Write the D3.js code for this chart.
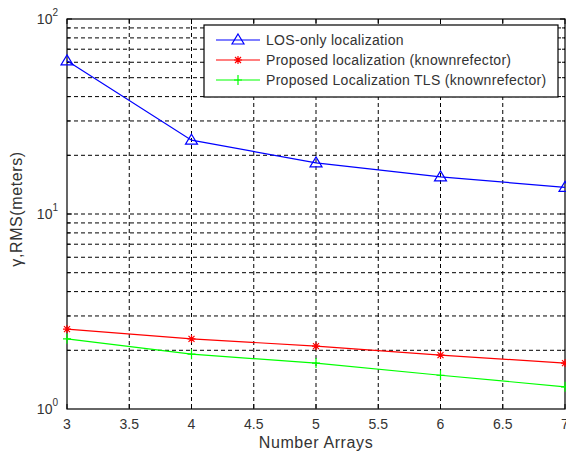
<!DOCTYPE html>
<html>
<head>
<meta charset="utf-8">
<script src="https://cdn.jsdelivr.net/npm/d3@7"></script>
<style>
  body { margin: 0; background: #fff; }
  svg { font-family: "Liberation Sans", Arial, sans-serif; }
</style>
</head>
<body>
<div id="chart"></div>
<script>
// data
var arrays   = [3, 4, 5, 6, 7];
var losOnly  = [61, 23.9, 18.3, 15.5, 13.7];
var proposed = [2.57, 2.29, 2.10, 1.89, 1.72];
var propTLS  = [2.29, 1.91, 1.72, 1.49, 1.30];
var xTicks   = [3, 3.5, 4, 4.5, 5, 5.5, 6, 6.5, 7];
var seriesNames = ["LOS-only localization",
                   "Proposed localization (knownrefector)",
                   "Proposed Localization TLS (knownrefector)"];

var width = 566, height = 454;
var margin = {top: 19, right: 1, bottom: 45, left: 67};
var iw = width - margin.left - margin.right;
var ih = height - margin.top - margin.bottom;

var svg = d3.select("#chart").append("svg")
    .attr("width", width)
    .attr("height", height);

var x = d3.scaleLinear().domain([3, 7]).range([0, iw]);
var y = d3.scaleLog().domain([1, 100]).range([ih, 0]);

var g = svg.append("g")
    .attr("transform", "translate(" + margin.left + "," + margin.top + ")");

// grid lines (dashed, matlab style)
var yMinor = [];
[1, 10].forEach(function(d) {
    for (var k = 1; k <= 9; k++) if (d * k > 1) yMinor.push(d * k);
});
g.selectAll(".hgrid").data(yMinor.filter(function(v) { return v < 100; }))
  .enter().append("line")
    .attr("x1", 0).attr("x2", iw)
    .attr("y1", function(d) { return y(d); })
    .attr("y2", function(d) { return y(d); })
    .attr("stroke", "#000").attr("stroke-width", 1)
    .attr("stroke-dasharray", "4,3");
g.selectAll(".vgrid").data(xTicks.slice(1, -1))
  .enter().append("line")
    .attr("x1", function(d) { return x(d); })
    .attr("x2", function(d) { return x(d); })
    .attr("y1", 0).attr("y2", ih)
    .attr("stroke", "#000").attr("stroke-width", 1)
    .attr("stroke-dasharray", "4,3");

// box
g.append("rect")
    .attr("width", iw).attr("height", ih)
    .attr("fill", "none").attr("stroke", "#000").attr("stroke-width", 1.2);

// inward ticks on all sides
xTicks.forEach(function(t) {
    g.append("line").attr("x1", x(t)).attr("x2", x(t)).attr("y1", ih).attr("y2", ih - 5).attr("stroke", "#000");
    g.append("line").attr("x1", x(t)).attr("x2", x(t)).attr("y1", 0).attr("y2", 5).attr("stroke", "#000");
});
yMinor.concat([100]).forEach(function(t) {
    var len = (t === 10 || t === 100) ? 5 : 3;
    g.append("line").attr("x1", 0).attr("x2", len).attr("y1", y(t)).attr("y2", y(t)).attr("stroke", "#000");
    g.append("line").attr("x1", iw).attr("x2", iw - len).attr("y1", y(t)).attr("y2", y(t)).attr("stroke", "#000");
});

// x tick labels
g.selectAll(".xlab").data(xTicks).enter().append("text")
    .attr("x", function(d) { return x(d); })
    .attr("y", ih + 20)
    .attr("text-anchor", "middle")
    .attr("font-size", 14)
    .attr("fill", "#333")
    .text(function(d) { return d; });

// y tick labels 10^n
[0, 1, 2].forEach(function(p) {
    var t = g.append("text")
        .attr("x", -9)
        .attr("y", y(Math.pow(10, p)) + 5)
        .attr("text-anchor", "end")
        .attr("font-size", 14)
        .attr("fill", "#333");
    t.append("tspan").text("10");
    t.append("tspan").attr("dy", -8).attr("font-size", 10).text(p);
});

// axis labels
svg.append("text")
    .attr("x", margin.left + iw / 2)
    .attr("y", 448)
    .attr("text-anchor", "middle")
    .attr("font-size", 16)
    .attr("letter-spacing", 0.6)
    .attr("fill", "#333")
    .text("Number Arrays");
svg.append("text")
    .attr("transform", "translate(22," + (margin.top + ih / 2 - 5) + ") rotate(-90)")
    .attr("text-anchor", "middle")
    .attr("font-size", 16)
    .attr("letter-spacing", 0.6)
    .attr("fill", "#333")
    .text("\u03B3,RMS(meters)");

// lines
var series = [
    {name: seriesNames[0], vals: losOnly,  color: "#0000ff", marker: "tri"},
    {name: seriesNames[1], vals: proposed, color: "#ff0000", marker: "star"},
    {name: seriesNames[2], vals: propTLS,  color: "#00ff00", marker: "plus"}
];

var line = d3.line()
    .x(function(d) { return x(d[0]); })
    .y(function(d) { return y(d[1]); });

function drawMarker(sel, type, color, cx, cy) {
    if (type === "tri") {
        sel.append("path")
            .attr("d", "M" + cx + "," + (cy - 6) + "L" + (cx + 6) + "," + (cy + 4) + "L" + (cx - 6) + "," + (cy + 4) + "Z")
            .attr("fill", "none").attr("stroke", color).attr("stroke-width", 1.2);
    } else if (type === "star") {
        var p = "M" + (cx - 4) + "," + cy + "H" + (cx + 4) +
                "M" + cx + "," + (cy - 4) + "V" + (cy + 4) +
                "M" + (cx - 3) + "," + (cy - 3) + "L" + (cx + 3) + "," + (cy + 3) +
                "M" + (cx - 3) + "," + (cy + 3) + "L" + (cx + 3) + "," + (cy - 3);
        sel.append("path").attr("d", p).attr("stroke", color).attr("stroke-width", 1.2);
    } else {
        var q = "M" + (cx - 4) + "," + cy + "H" + (cx + 4) +
                "M" + cx + "," + (cy - 5) + "V" + (cy + 5);
        sel.append("path").attr("d", q).attr("stroke", color).attr("stroke-width", 1.2);
    }
}

series.forEach(function(s) {
    var pts = arrays.map(function(a, i) { return [a, s.vals[i]]; });
    g.append("path")
        .attr("d", line(pts))
        .attr("fill", "none")
        .attr("stroke", s.color)
        .attr("stroke-width", 1.2);
    pts.forEach(function(p) {
        drawMarker(g, s.marker, s.color, x(p[0]), y(p[1]));
    });
});

// legend
var lg = svg.append("g").attr("transform", "translate(204,25)");
lg.append("rect")
    .attr("width", 354).attr("height", 72)
    .attr("fill", "#fff").attr("stroke", "#000").attr("stroke-width", 1.2);
series.forEach(function(s, i) {
    var ly = 15 + i * 20;
    lg.append("line")
        .attr("x1", 12).attr("x2", 56).attr("y1", ly).attr("y2", ly)
        .attr("stroke", s.color).attr("stroke-width", 1.2);
    drawMarker(lg, s.marker, s.color, 34, ly);
    lg.append("text")
        .attr("x", 62).attr("y", ly + 5)
        .attr("font-size", 14)
        .attr("letter-spacing", 0.3)
        .attr("fill", "#333")
        .text(s.name);
});
</script>
</body>
</html>
